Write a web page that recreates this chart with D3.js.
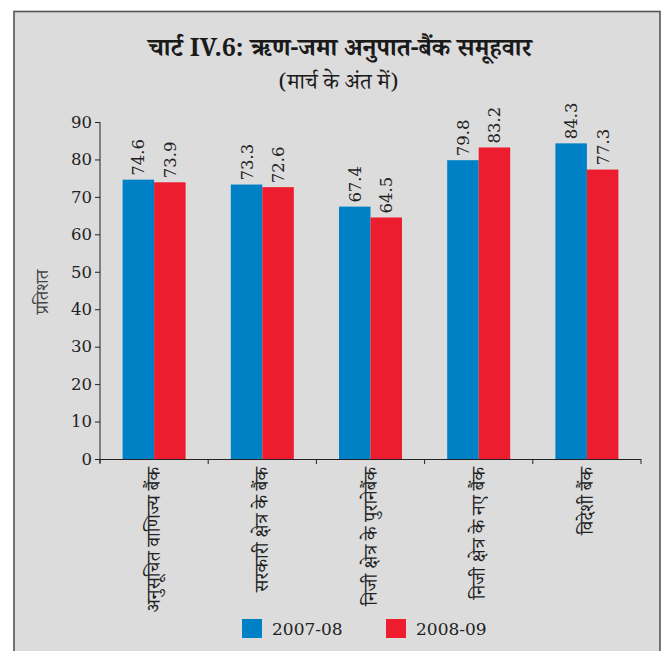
<!DOCTYPE html>
<html><head><meta charset="utf-8">
<script src="https://cdn.jsdelivr.net/npm/d3@7"></script>
<style>body{margin:0;background:#fff}svg{display:block}</style>
</head><body>
<svg id="c" width="666" height="651"></svg>
<script>
const categories = ["अनुसूचित वाणिज्य बैंक","सरकारी क्षेत्र के बैंक","निजी क्षेत्र के पुरानेबैंक","निजी क्षेत्र के नए बैंक","विदेशी बैंक"];
const seriesNames = ["2007-08","2008-09"];
const values0708 = [74.6, 73.3, 67.4, 79.8, 84.3];
const values0809 = [73.9, 72.6, 64.5, 83.2, 77.3];
const yTicks = [0,10,20,30,40,50,60,70,80,90];
const colors = ["#0081C6","#ED1C2E"];
const title = "चार्ट IV.6: ऋण-जमा अनुपात-बैंक समूहवार";
const subtitle = "(मार्च के अंत में)";
const yLabel = "प्रतिशत";

const svg = d3.select("#c");
const serif = "'DejaVu Serif', serif";
const deva = "'Noto Serif Devanagari','Noto Sans Devanagari','Lohit Devanagari', serif";

svg.append("rect").attr("x",14).attr("y",11.5).attr("width",646).attr("height",700)
  .attr("fill","#dcdcdc").attr("stroke","#555").attr("stroke-width",1.6);

svg.append("text").attr("x",340).attr("y",56).attr("text-anchor","middle")
  .attr("font-family",deva).attr("font-weight","bold").attr("font-size",25).attr("fill","#1a1a1a").text(title);
svg.append("text").attr("x",338.5).attr("y",89).attr("text-anchor","middle")
  .attr("font-family",deva).attr("font-size",22).attr("fill","#1a1a1a").text(subtitle);

const x0 = d3.scaleBand().domain(categories).range([100,641]).padding(0);
const y = d3.scaleLinear().domain([0,90]).range([459,122]);
const barW = 31.5;
const x1 = d3.scaleBand().domain(seriesNames).range([0, barW*2]);

const data = categories.map((c,i)=>({cat:c, vals:[values0708[i], values0809[i]]}));

const g = svg.append("g");
const groups = g.selectAll("g.grp").data(data).join("g")
  .attr("transform", d=>`translate(${x0(d.cat)+x0.bandwidth()/2-barW},0)`);
groups.selectAll("rect").data(d=>d.vals.map((v,j)=>({v, s:seriesNames[j], j})))
  .join("rect").attr("x",d=>x1(d.s)).attr("width",x1.bandwidth())
  .attr("y",d=>y(d.v)).attr("height",d=>y(0)-y(d.v)).attr("fill",d=>colors[d.j]);
groups.selectAll("text").data(d=>d.vals.map((v,j)=>({v, s:seriesNames[j], j})))
  .join("text")
  .attr("transform",d=>`translate(${x1(d.s)+x1.bandwidth()/2+6},${y(d.v)-4}) rotate(-90)`)
  .attr("font-family",serif).attr("font-size",16.5).attr("fill","#222")
  .text(d=>d.v.toFixed(1));

// Y axis
const yAxis = d3.axisLeft(y).tickValues(yTicks).tickSize(5).tickPadding(3).tickFormat(d3.format("d"));
const ya = svg.append("g").attr("transform","translate(100,0)").call(yAxis);
ya.select(".domain").attr("stroke","#222").attr("d","M0,122V463");
ya.selectAll(".tick line").attr("stroke","#222");
ya.selectAll(".tick text").attr("font-family",serif).attr("font-size",16.5).attr("fill","#222");

// X axis line and ticks at band boundaries
const xa = svg.append("g");
xa.append("line").attr("x1",100).attr("x2",641).attr("y1",459.5).attr("y2",459.5).attr("stroke","#222");
const bounds = categories.map(c=>x0(c)).concat([x0.range()[1]]);
xa.selectAll("line.t").data(bounds).join("line").attr("class","t")
  .attr("x1",d=>d).attr("x2",d=>d).attr("y1",459).attr("y2",464).attr("stroke","#222");
xa.selectAll("text").data(categories).join("text")
  .attr("transform",d=>`translate(${x0(d)+x0.bandwidth()/2+6},467) rotate(-90)`)
  .attr("text-anchor","end").attr("font-family",deva).attr("font-size",19).attr("fill","#222")
  .text(d=>d);

svg.append("text").attr("transform","translate(48,292) rotate(-90)").attr("text-anchor","middle")
  .attr("font-family",deva).attr("font-size",18).attr("fill","#444").text(yLabel);

// Legend
const legX = [242, 386];
const leg = svg.append("g");
seriesNames.forEach((s,i)=>{
  leg.append("rect").attr("x",legX[i]).attr("y",619).attr("width",20).attr("height",19).attr("fill",colors[i]);
  leg.append("text").attr("x",legX[i]+30).attr("y",635).attr("font-family",serif).attr("font-size",17)
    .attr("fill","#222").text(s);
});
</script>
</body></html>
